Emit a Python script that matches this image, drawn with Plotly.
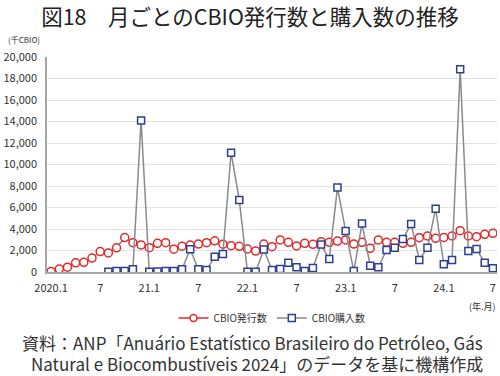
import plotly.graph_objects as go

months = list(range(55))  # 2020.1 .. 2024.7
tick_pos = [0, 6, 12, 18, 24, 30, 36, 42, 48, 54]
tick_text = ["2020.1", "7", "21.1", "7", "22.1", "7", "23.1", "7", "24.1", "7"]
y_ticks = [0, 2000, 4000, 6000, 8000, 10000, 12000, 14000, 16000, 18000, 20000]

issued = [50, 270, 450, 850, 900, 1300, 1900, 1770, 2250, 3200, 2730, 2520, 2260, 2670,
          2730, 2120, 2400, 2510, 2600, 2730, 2900, 2590, 2450, 2390, 2140, 1950, 2600, 2360,
          2980, 2760, 2420, 2670, 2570, 2820, 2760,
          2880, 2980, 2600, 2760, 2200, 2980, 2760, 2760, 2670, 2760, 3190, 3350, 3130, 3220,
          3350, 3840, 3350, 3290, 3500, 3600]
purchased = [None, None, None, None, None, None, None, 30, 100, 100, 250, 14100, 30, 50,
             100, 100, 250, 2110, 250, 190, 1430, 1670, 11100, 6700, 30, 30, 2100, 190,
             280, 870, 440, 90, 370, 2550, 1200,
             7850, 3810, 90, 4500, 590, 440, 2050, 2260, 3070, 4470, 1120, 2260, 5890, 710,
             1120, 18860, 1950, 2140, 870, 340]

title_text = "図18　月ごとのCBIO発行数と購入数の推移"
source_line1 = "資料：ANP「Anuário Estatístico Brasileiro do Petróleo, Gás"
source_line2 = "Natural e Biocombustíveis 2024」のデータを基に機構作成"

RED = "#e02a2a"
BLUE = "#2e3f93"
LINE = "#8a8a8a"
FONT = "Noto Sans CJK JP"
TXT = "#333333"

fig = go.Figure()
fig.add_trace(go.Scatter(
    x=months, y=issued, mode="lines+markers", name="CBIO発行数", showlegend=False,
    line=dict(color=LINE, width=1.5),
    marker=dict(symbol="circle", size=8, color="white", line=dict(color=RED, width=1.5)),
))
fig.add_trace(go.Scatter(
    x=months, y=purchased, mode="lines+markers", name="CBIO購入数", showlegend=False,
    line=dict(color=LINE, width=1.5),
    marker=dict(symbol="square", size=7, color="white", line=dict(color=BLUE, width=1.5)),
))
# legend entries
fig.add_trace(go.Scatter(
    x=[None], y=[None], mode="lines+markers", name="CBIO発行数",
    line=dict(color=RED, width=1.5),
    marker=dict(symbol="circle", size=7, color="white", line=dict(color=RED, width=1.5)),
))
fig.add_trace(go.Scatter(
    x=[None], y=[None], mode="lines+markers", name="CBIO購入数",
    line=dict(color=LINE, width=1.5),
    marker=dict(symbol="square", size=7, color="white", line=dict(color=BLUE, width=1.5)),
))

H = 376.0
W = 500.0
PL, PR, PT, PB = 43, 3, 57, 104
ph = H - PT - PB
pw = W - PL - PR

def py(ypix):
    return (H - PB - ypix) / ph

def px(xpix):
    return (xpix - PL) / pw

fig.update_layout(
    width=500, height=376,
    margin=dict(l=PL, r=PR, t=PT, b=PB),
    paper_bgcolor="white", plot_bgcolor="white",
    font=dict(family=FONT, size=11, color=TXT),
    title=dict(text=title_text, x=0.5, xanchor="center", xref="container",
               y=1 - 17 / H, yanchor="middle", yref="container",
               font=dict(family=FONT, size=21.5, color="#222222")),
    legend=dict(orientation="h", x=0.5, xanchor="center", y=py(318), yanchor="middle",
                font=dict(size=10, color=TXT), itemwidth=30, tracegroupgap=0),
    xaxis=dict(range=[-0.5, 54.5], tickmode="array", tickvals=tick_pos, ticktext=tick_text,
               showgrid=False, zeroline=False, showline=True, linecolor="#a6a6a6", linewidth=2,
               ticks="", ticklabelstandoff=5, tickfont=dict(size=11, color=TXT)),
    yaxis=dict(range=[0, 20000], tickmode="array", tickvals=y_ticks, tickformat=",d",
               showgrid=True, gridcolor="#e3e3e3", gridwidth=1, zeroline=False,
               showline=True, linecolor="#a6a6a6", linewidth=1.5, ticks="",
               ticklabelstandoff=6, tickfont=dict(size=11, color=TXT)),
    annotations=[
        dict(text="(千CBIO)", x=px(2), y=py(40), xref="paper", yref="paper",
             xanchor="left", yanchor="middle", showarrow=False, font=dict(size=8, color=TXT)),
        dict(text="(年.月)", x=px(498), y=py(306), xref="paper", yref="paper", xanchor="right",
             yanchor="middle", showarrow=False, font=dict(size=9, color=TXT)),
        dict(text=source_line1, x=px(250), y=py(342),
             xref="paper", yref="paper", xanchor="center", yanchor="middle", showarrow=False,
             font=dict(size=17, color="#333333")),
        dict(text=source_line2, x=px(255), y=py(363),
             xref="paper", yref="paper", xanchor="center", yanchor="middle", showarrow=False,
             font=dict(size=17, color="#333333")),
    ],
)

fig.write_html("out.html", config={"displayModeBar": False},
               post_script="document.body.style.margin='0';")
